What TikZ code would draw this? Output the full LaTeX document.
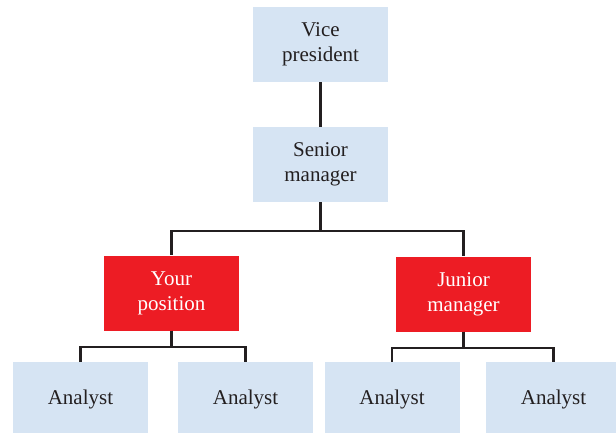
\documentclass[tikz,border=0pt]{standalone}
\usepackage{fontspec}
\setmainfont{Liberation Serif}[Ligatures=TeX]
\definecolor{boxblue}{HTML}{D6E4F3}
\definecolor{boxred}{HTML}{ED1C24}
\definecolor{inkdark}{HTML}{231F20}

\begin{document}
\begin{tikzpicture}[x=1pt, y=-1pt,
		post/.style={rectangle, fill=boxblue, text=inkdark, minimum width=135pt, minimum height=75pt, inner sep=0pt, align=center, font=\fontsize{21}{25}\selectfont},
		focus/.style={post, fill=boxred, text=white},
		link/.style={draw=inkdark, line width=2.2pt}]
			\def\drop{29}
			\def\split{16}
			\clip (0,0) rectangle (616,433);
			
			% Draw boxes
			\node[post] (vp) at (320.5,44.5) {Vice\\president};
			\node[post] (sm) at (320.5,164.5) {Senior\\manager};
			\node[focus] (yp) at (171.5,293) {Your\\position};
			\node[focus] (jm) at (463.5,294) {Junior\\manager};
			\node[post] (a1) at (80.5,399.5) {Analyst};
			\node[post] (a2) at (245.5,399.5) {Analyst};
			\node[post] (a3) at (392,399.5) {Analyst};
			\node[post] (a4) at (553.5,399.5) {Analyst};
			
			% Draw links
			\draw[link] (vp) -- (sm);
			\draw[link] (sm.south) -- ++(0,\drop) -| (yp.north);
			\draw[link] (sm.south) -- ++(0,\drop) -| (jm.north);
			\draw[link] (yp.south) -- ++(0,\split) -| (a1.north);
			\draw[link] (yp.south) -- ++(0,\split) -| (a2.north);
			\draw[link] (jm.south) -- ++(0,\split) -| (a3.north);
			\draw[link] (jm.south) -- ++(0,\split) -| (a4.north);
		\end{tikzpicture}
\end{document}
